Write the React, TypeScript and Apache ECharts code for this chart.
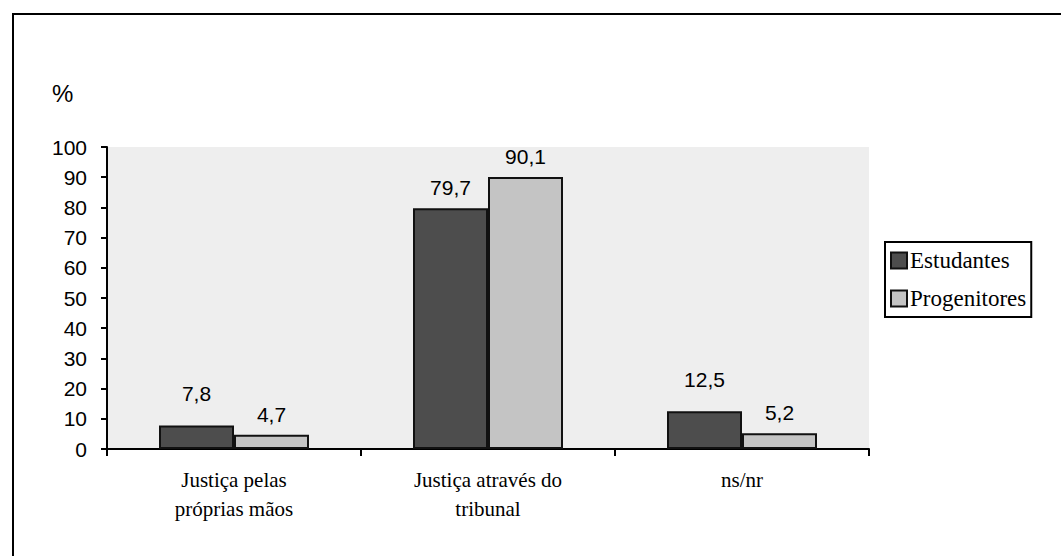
import React, { useEffect, useRef } from "react";
import * as echarts from "echarts";

const categories = ["Justiça pelas\npróprias mãos", "Justiça através do\ntribunal", "ns/nr"];
const estudantes = [7.8, 79.7, 12.5];
const progenitores = [4.7, 90.1, 5.2];
const seriesNames = ["Estudantes", "Progenitores"];
const yTicks = { min: 0, max: 100, interval: 10 };

const fmt = (v: number) => String(v).replace(".", ",");

export default function App() {
  const ref = useRef<HTMLDivElement>(null);
  useEffect(() => {
    if (!ref.current) return;
    const chart = echarts.init(ref.current, null, { renderer: "svg" });
    const labelBase = {
      show: true,
      position: "top" as const,
      distance: 10,
      fontFamily: "Arial, 'Liberation Sans', sans-serif",
      fontSize: 21,
      color: "#000",
      formatter: (p: any) => fmt(p.value),
    };
    chart.setOption({
      animation: false,
      backgroundColor: "#fff",
      graphic: [
        {
          type: "rect",
          shape: { x: 13, y: 14, width: 1200, height: 700 },
          style: { fill: "none", stroke: "#000", lineWidth: 2 },
          silent: true,
        },
        {
          type: "text",
          left: 52,
          top: 81,
          style: {
            text: "%",
            fontFamily: "Arial, 'Liberation Sans', sans-serif",
            fontSize: 24,
            fill: "#000",
          },
        },
      ],
      legend: {
        orient: "vertical",
        left: 885,
        top: 242,
        data: seriesNames,
        icon: "rect",
        itemWidth: 16,
        itemHeight: 16,
        itemGap: 11,
        padding: [5, 5, 5, 5],
        borderColor: "#000",
        borderWidth: 2,
        backgroundColor: "#fff",
        textStyle: {
          fontFamily: "'Liberation Serif', 'Times New Roman', serif",
          fontSize: 23,
          lineHeight: 27,
          color: "#000",
          padding: [0, 0, 0, -2],
        },
      },
      grid: {
        left: 107,
        top: 147,
        right: 192,
        bottom: 107,
        show: true,
        backgroundColor: "#eeeeee",
        borderWidth: 0,
      },
      xAxis: {
        type: "category",
        data: categories,
        axisLine: { lineStyle: { color: "#000", width: 2 } },
        axisTick: { show: true, length: 7, lineStyle: { color: "#000", width: 2 } },
        axisLabel: {
          color: "#000",
          fontFamily: "'Liberation Serif', 'Times New Roman', serif",
          fontSize: 21,
          lineHeight: 29,
          margin: 16,
        },
      },
      yAxis: {
        type: "value",
        min: yTicks.min,
        max: yTicks.max,
        interval: yTicks.interval,
        axisLine: { show: true, lineStyle: { color: "#000", width: 2 } },
        axisTick: { show: true, length: 6, lineStyle: { color: "#000", width: 2 } },
        splitLine: { show: false },
        axisLabel: {
          color: "#000",
          fontFamily: "Arial, 'Liberation Sans', sans-serif",
          fontSize: 21,
          margin: 20,
        },
      },
      series: [
        {
          name: seriesNames[0],
          type: "bar",
          barWidth: 75,
          barGap: "0%",
          data: estudantes.map((v) => ({
            value: v,
            label: { distance: v < 50 ? 21 : 10 },
          })),
          itemStyle: { color: "#4d4d4d", borderColor: "#111", borderWidth: 2 },
          label: labelBase,
        },
        {
          name: seriesNames[1],
          type: "bar",
          barWidth: 75,
          data: progenitores,
          itemStyle: { color: "#c4c4c4", borderColor: "#111", borderWidth: 2 },
          label: labelBase,
        },
      ],
    });
    return () => chart.dispose();
  }, []);
  return <div ref={ref} style={{ width: 1061, height: 556, position: "fixed", left: 0, top: 0 }} />;
}
